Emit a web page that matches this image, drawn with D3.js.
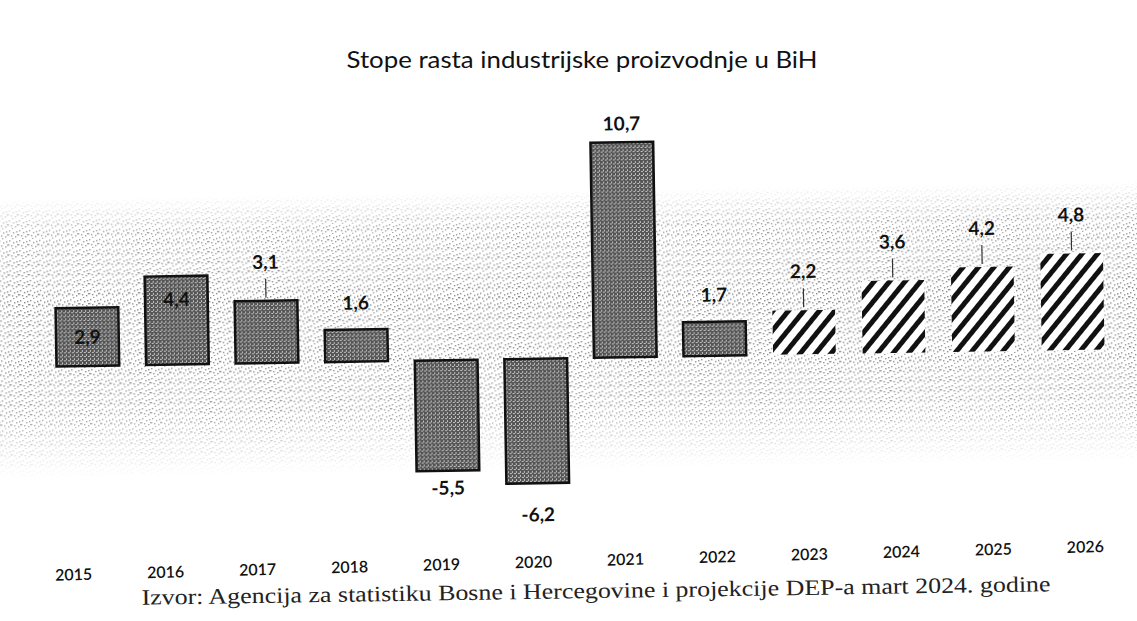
<!DOCTYPE html>
<html>
<head>
<meta charset="utf-8">
<script src="https://cdn.jsdelivr.net/npm/d3@7"></script>
<style>
  body { margin: 0; background: #fff; }
  svg { display: block; }
</style>
</head>
<body>
<div class="chart"></div>
<script>
var W = 1137, H = 621;

// data
var years  = ["2015","2016","2017","2018","2019","2020","2021","2022","2023","2024","2025","2026"];
var values = [2.9, 4.4, 3.1, 1.6, -5.5, -6.2, 10.7, 1.7, 2.2, 3.6, 4.2, 4.8];
var projected = ["2023","2024","2025","2026"];
// where the value label sits: in = inside bar, top = inside near top, near = just above, lead = above with a small leader
var labelMode = ["in","top","lead","near","below","below","near","near","lead","lead","lead","lead"];

var title = "Stope rasta industrijske proizvodnje u BiH";
var source = "Izvor: Agencija za statistiku Bosne i Hercegovine i projekcije DEP-a mart 2024. godine";

var data = years.map(function(y, i) {
  return {year: y, value: values[i], mode: labelMode[i], proj: projected.indexOf(y) >= 0};
});

var svg = d3.select(".chart").append("svg")
    .attr("width", W)
    .attr("height", H);

var defs = svg.append("defs");

// stipple for the scanned background
var dots = defs.append("pattern")
    .attr("id", "stipple")
    .attr("width", 10).attr("height", 10)
    .attr("patternUnits", "userSpaceOnUse");
[[1,1],[5,3],[3,6],[7,7],[8,2],[0,5],[4,9],[9,5]].forEach(function(p) {
  dots.append("rect").attr("x", p[0]).attr("y", p[1])
    .attr("width", 1.4).attr("height", 1.4).attr("fill", "#333");
});

var grad = defs.append("linearGradient")
    .attr("id", "bandFade").attr("x1", 0).attr("y1", 0).attr("x2", 0).attr("y2", 1);
grad.append("stop").attr("offset", "0%").attr("stop-color", "#fff").attr("stop-opacity", 0);
grad.append("stop").attr("offset", "12%").attr("stop-color", "#fff").attr("stop-opacity", 0.75);
grad.append("stop").attr("offset", "40%").attr("stop-color", "#fff").attr("stop-opacity", 1);
grad.append("stop").attr("offset", "75%").attr("stop-color", "#fff").attr("stop-opacity", 0.85);
grad.append("stop").attr("offset", "100%").attr("stop-color", "#fff").attr("stop-opacity", 0);

defs.append("mask").attr("id", "bandMask")
  .append("rect")
    .attr("x", -40).attr("y", 190).attr("width", W + 80).attr("height", 280)
    .attr("fill", "url(#bandFade)");

// hatching for projections
var hatch = defs.append("pattern")
    .attr("id", "hatch")
    .attr("width", 12).attr("height", 12)
    .attr("patternUnits", "userSpaceOnUse")
    .attr("patternTransform", "rotate(40)");
hatch.append("rect").attr("width", 12).attr("height", 12).attr("fill", "#fff");
hatch.append("rect").attr("width", 5).attr("height", 12).attr("fill", "#111");

// grey grain for the actual bars
var grain = defs.append("pattern")
    .attr("id", "grain")
    .attr("width", 4).attr("height", 4)
    .attr("patternUnits", "userSpaceOnUse");
grain.append("rect").attr("width", 4).attr("height", 4).attr("fill", "#555");
grain.append("rect").attr("x", 0).attr("y", 0).attr("width", 2).attr("height", 1).attr("fill", "#c4c4c4");
grain.append("rect").attr("x", 2).attr("y", 2).attr("width", 1).attr("height", 2).attr("fill", "#c4c4c4");

var font = "Lato, 'Noto Sans', sans-serif";

// title
svg.append("text")
    .attr("x", 582).attr("y", 68)
    .attr("text-anchor", "middle")
    .attr("textLength", 471)
    .attr("lengthAdjust", "spacingAndGlyphs")
    .style("font-family", font)
    .style("font-size", "23px")
    .style("fill", "#111")
    .text(title);

// the scan is slightly tilted, each part a little differently
var g = svg.append("g")
    .attr("transform", "rotate(-0.93,580,358)");

g.append("rect")
    .attr("x", -40).attr("y", 190)
    .attr("width", W + 80).attr("height", 280)
    .attr("fill", "url(#stipple)")
    .attr("mask", "url(#bandMask)")
    .attr("opacity", 0.6);

var x = d3.scaleBand()
    .domain(years)
    .range([43, 1118])
    .paddingInner(0.3)
    .paddingOuter(0.15);

var y = d3.scaleLinear()
    .domain([0, 10.7])
    .range([358, 143]);

g.selectAll(".bar")
    .data(data)
  .enter().append("rect")
    .attr("class", "bar")
    .attr("x", function(d) { return x(d.year); })
    .attr("y", function(d) { return y(Math.max(0, d.value)); })
    .attr("width", x.bandwidth())
    .attr("height", function(d) { return Math.abs(y(d.value) - y(0)); })
    .attr("fill", function(d) { return d.proj ? "url(#hatch)" : "url(#grain)"; })
    .attr("stroke", function(d) { return d.proj ? "none" : "#111"; })
    .attr("stroke-width", 2.5);

function labelY(d) {
  if (d.mode == "in") return (y(d.value) + y(0)) / 2 + 7;
  if (d.mode == "top") return y(d.value) + 30;
  if (d.mode == "near") return y(d.value) - (d.value > 5 ? 12 : 20);
  if (d.mode == "lead") return y(d.value) - 32;
  return y(d.value) + (d.value < -6 ? 38 : 24);
}

g.selectAll(".lead")
    .data(data.filter(function(d) { return d.mode == "lead"; }))
  .enter().append("line")
    .attr("class", "lead")
    .attr("x1", function(d) { return x(d.year) + x.bandwidth() / 2; })
    .attr("x2", function(d) { return x(d.year) + x.bandwidth() / 2; })
    .attr("y1", function(d) { return labelY(d) + 10; })
    .attr("y2", function(d) { return y(d.value) - 3; })
    .attr("stroke", "#333")
    .attr("stroke-width", 1.2);

g.selectAll(".val")
    .data(data)
  .enter().append("text")
    .attr("class", "val")
    .attr("x", function(d) { return x(d.year) + x.bandwidth() / 2; })
    .attr("y", labelY)
    .attr("text-anchor", "middle")
    .style("font-family", font)
    .style("font-weight", "bold")
    .style("font-size", "19px")
    .style("fill", "#111")
    .text(function(d) { return String(d.value).replace(".", ","); });

// year labels, tilted a bit more than the bars
var xl = d3.scalePoint()
    .domain(years)
    .range([73, 1085]);

var ax = svg.append("g")
    .attr("transform", "rotate(-1.58,580,562) translate(0,555)")
    .call(d3.axisBottom(xl).tickSize(0).tickPadding(0));
ax.select(".domain").remove();
ax.selectAll("text")
    .style("font-family", font)
    .style("font-size", "16px")
    .style("font-weight", "600")
    .style("fill", "#111");

// source line
svg.append("text")
    .attr("transform", "rotate(-0.85,596,591)")
    .attr("x", 596).attr("y", 598)
    .attr("text-anchor", "middle")
    .attr("textLength", 909)
    .attr("lengthAdjust", "spacingAndGlyphs")
    .style("font-family", "'Liberation Serif', 'DejaVu Serif', serif")
    .style("font-size", "22px")
    .style("fill", "#222")
    .text(source);
</script>
</body>
</html>
